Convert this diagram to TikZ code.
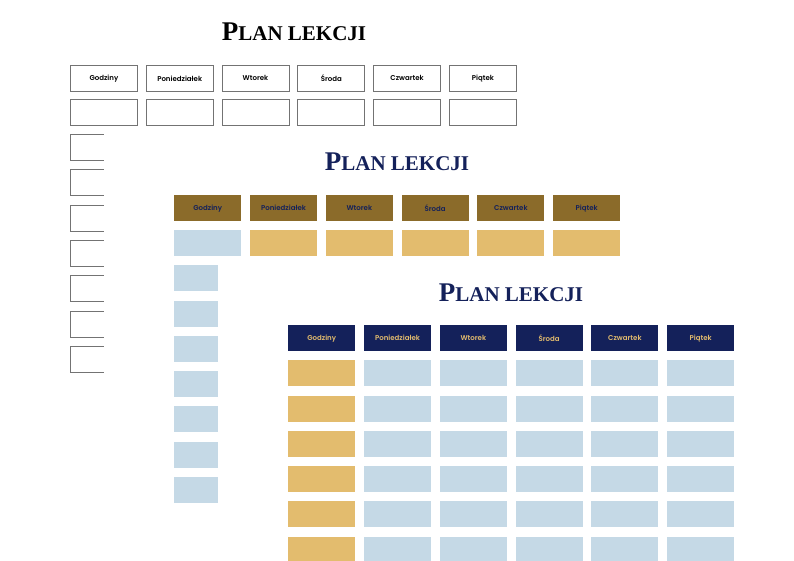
\documentclass[tikz,border=0pt]{standalone}
\usepackage{fontspec}
\setmainfont{Liberation Serif}
\newfontfamily\cellfont{Poppins}[UprightFont=* SemiBold]
\definecolor{brownh}{HTML}{8B6B2A}
\definecolor{gold}{HTML}{E3BC6E}
\definecolor{lblue}{HTML}{C5D9E6}
\definecolor{navy}{HTML}{14215A}
\newcommand{\plantitle}{{\fontsize{27}{27}\selectfont P}{\fontsize{21}{21}\selectfont LAN LEKCJI}}
\tikzset{
 cellbox/.style={minimum width=67pt,minimum height=26pt,inner sep=0pt,anchor=north west,font=\cellfont\fontsize{7}{7}\selectfont},
 outl/.style={cellbox,draw=black!55,line width=0.8pt,fill=white},
 title/.style={font=\bfseries,anchor=base},
}
\begin{document}
\begin{tikzpicture}[x=1pt,y=-1pt]
\useasboundingbox[fill=white] (0,0) rectangle (794,561);
\def\days{Godziny,Poniedziałek,Wtorek,Środa,Czwartek,Piątek}
% Sheet 1
\node[title,text=black] (t1) at (294,41) {\plantitle};
\foreach \d [count=\i from 0] in \days {
  \node[outl] (a\i) at (70+75.8*\i,65) {\d};
  \node[outl] (b\i) at (70+75.8*\i,99) {};
}
\foreach \r in {0,...,6} {
  \node[outl,minimum width=34pt] (c\r) at (70,134+35.3*\r) {};
}
% Sheet 2
\fill[white] (104,130) rectangle (794,561);
\node[title,text=navy] (t2) at (397,171) {\plantitle};
\foreach \d [count=\i from 0] in \days {
  \node[cellbox,fill=brownh,text=navy] (d\i) at (174+75.8*\i,195) {\d};
  \ifnum\i=0
    \node[cellbox,fill=lblue] (e\i) at (174,230) {};
  \else
    \node[cellbox,fill=gold] (e\i) at (174+75.8*\i,230) {};
  \fi
}
\foreach \r in {0,...,6} {
  \node[cellbox,fill=lblue,minimum width=44pt] (f\r) at (174,265+35.3*\r) {};
}
% Sheet 3
\fill[white] (218,260) rectangle (794,561);
\node[title,text=navy] (t3) at (511,301) {\plantitle};
\foreach \d [count=\i from 0] in \days {
  \node[cellbox,fill=navy,text=gold] (g\i) at (288+75.8*\i,325) {\d};
  \foreach \r in {0,...,5} {
    \ifnum\i=0
      \node[cellbox,fill=gold] (h\i\r) at (288,360+35.3*\r) {};
    \else
      \node[cellbox,fill=lblue] (h\i\r) at (288+75.8*\i,360+35.3*\r) {};
    \fi
  }
}
\end{tikzpicture}
\end{document}
